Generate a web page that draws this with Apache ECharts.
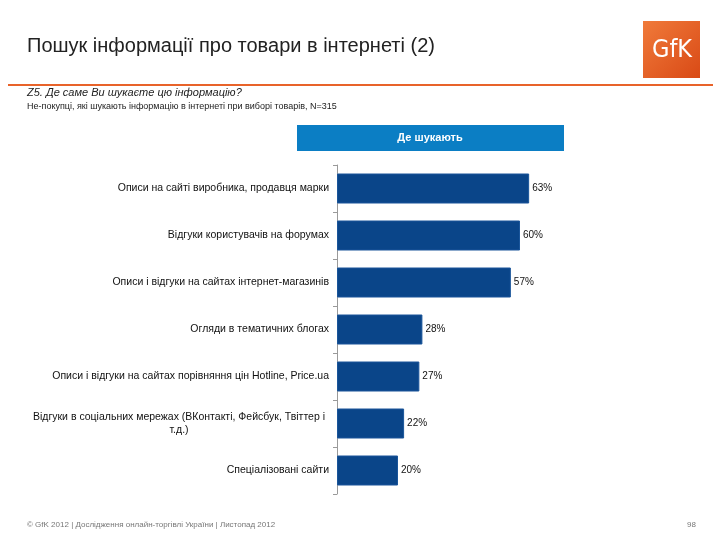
<!DOCTYPE html>
<html>
<head>
<meta charset="utf-8">
<script src="https://cdn.jsdelivr.net/npm/echarts@6/dist/echarts.min.js"></script>
<style>html,body{margin:0;padding:0;background:#fff}#c{width:720px;height:540px}</style>
</head>
<body>
<div id="c"></div>
<script>
var categories = [
  'Описи на сайті виробника, продавця марки',
  'Відгуки користувачів на форумах',
  'Описи і відгуки на сайтах інтернет-магазинів',
  'Огляди в тематичних блогах',
  'Описи і відгуки на сайтах порівняння цін Hotline, Price.ua',
  'Відгуки в соціальних мережах (ВКонтакті, Фейсбук, Твіттер і т.д.)',
  'Спеціалізовані сайти'
];
var values = [63, 60, 57, 28, 27, 22, 20];
var seriesName = 'Де шукають';
var titleText = 'Пошук інформації про товари в інтернеті (2)';
var questionText = 'Z5. Де саме Ви шукаєте цю інформацію?';
var baseText = 'Не-покупці, які шукають інформацію в інтернеті при виборі товарів, N=315';
var footerText = '© GfK 2012 | Дослідження онлайн-торгівлі України | Листопад 2012';
var pageNum = '98';

var chart = echarts.init(document.getElementById('c'), null, {renderer: 'canvas'});
var font = 'Liberation Sans, Arial, sans-serif';
chart.setOption({
  animation: false,
  backgroundColor: '#ffffff',
  grid: {left: 337, right: 78, top: 165, bottom: 46, containLabel: false},
  xAxis: {type: 'value', min: 0, max: 100, show: false},
  yAxis: {
    type: 'category', data: categories, inverse: true,
    axisLine: {show: true, lineStyle: {color: '#9a9a9a', width: 1}},
    axisTick: {show: true, length: 4, lineStyle: {color: '#9a9a9a'}},
    axisLabel: {
      margin: 8, fontFamily: font, fontSize: 10.5, color: '#111',
      formatter: function (v) {
        if (v.indexOf('(ВКонтакті') >= 0) {
          return '{c|Відгуки в соціальних мережах (ВКонтакті, Фейсбук, Твіттер і}\n{c|т.д.)}';
        }
        return v;
      },
      rich: {c: {width: 300, align: 'center', fontFamily: font, fontSize: 10.5, color: '#111', lineHeight: 13}}
    },
    splitLine: {show: false}
  },
  series: [{
    type: 'bar', name: seriesName, data: values, barWidth: 30,
    itemStyle: {color: '#0a4589', borderColor: '#1a559a', borderWidth: 1},
    label: {show: true, position: 'right', distance: 3, formatter: '{c}%', fontFamily: font, fontSize: 10, color: '#111'}
  }],
  graphic: [
    {type: 'text', left: 27, top: 36, style: {text: titleText, fontFamily: font, fontSize: 20, fill: '#222'}},
    {type: 'rect', shape: {x: 643, y: 21, width: 57, height: 57}, style: {fill: new echarts.graphic.LinearGradient(0, 0, 1, 1, [{offset: 0, color: '#f07a3a'}, {offset: 1, color: '#d94a16'}])}},
    {type: 'text', x: 672, y: 50, style: {text: 'GfK', fontFamily: 'Liberation Sans Narrow, DejaVu Sans Condensed, sans-serif', fontSize: 25, fill: '#fff', align: 'center', verticalAlign: 'middle'}},
    {type: 'rect', shape: {x: 8, y: 84, width: 705, height: 2}, style: {fill: '#e8632a'}},
    {type: 'text', left: 27, top: 87, style: {text: questionText, fontFamily: font, fontSize: 11, fontStyle: 'italic', fill: '#222'}},
    {type: 'text', left: 27, top: 102, style: {text: baseText, fontFamily: font, fontSize: 9, fill: '#222'}},
    {type: 'rect', shape: {x: 297, y: 125, width: 267, height: 26}, style: {fill: '#0b7ec4'}},
    {type: 'text', x: 430, y: 138, style: {text: seriesName, fontFamily: font, fontSize: 11, fontWeight: 'bold', fill: '#fff', align: 'center', verticalAlign: 'middle'}},
    {type: 'text', left: 27, top: 521, style: {text: footerText, fontFamily: font, fontSize: 8, fill: '#777'}},
    {type: 'text', left: 687, top: 521, style: {text: pageNum, fontFamily: font, fontSize: 8, fill: '#777'}}
  ]
});
</script>
</body>
</html>
